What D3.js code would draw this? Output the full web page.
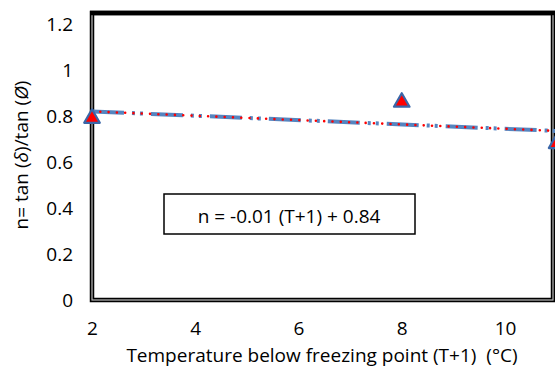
<!DOCTYPE html>
<html>
<head>
<meta charset="utf-8">
<script src="https://cdn.jsdelivr.net/npm/d3@7"></script>
<style>
  body { margin: 0; background: #fff; }
  text { font-family: "Open Sans", "Noto Sans", sans-serif; fill: #000; }
</style>
</head>
<body>
<script>
// measured points
var tempX = [2, 8, 11];
var nVals = [0.79, 0.86, 0.68];

// trend line ends
var trendX = [2, 11];
var trendY = [0.82, 0.735];

var xTicks = [2, 4, 6, 8, 10];
var yTicks = [0, 0.2, 0.4, 0.6, 0.8, 1, 1.2];

var width = 555, height = 369;
var fs = 19;

var svg = d3.select("body").append("svg")
  .attr("width", width)
  .attr("height", height);

var scalex = d3.scaleLinear()
  .domain([2, 10])
  .range([92, 505]);

var scaley = d3.scaleLinear()
  .domain([0, 1.2])
  .range([300, 24]);

// plot frame (double line look)
var pLeft = 92, pTop = 13, pRight = 553, pBottom = 300;
svg.append("rect")
  .attr("x", pLeft).attr("y", pTop)
  .attr("width", pRight - pLeft).attr("height", pBottom - pTop)
  .attr("fill", "none")
  .attr("stroke", "#000")
  .attr("stroke-width", 4.5);
svg.append("rect")
  .attr("x", pLeft).attr("y", pTop)
  .attr("width", pRight - pLeft).attr("height", pBottom - pTop)
  .attr("fill", "none")
  .attr("stroke", "#bbb")
  .attr("stroke-width", 1.2);
// top edge is a solid thick line
svg.append("line")
  .attr("x1", pLeft - 2).attr("x2", pRight + 2)
  .attr("y1", pTop).attr("y2", pTop)
  .attr("stroke", "#000").attr("stroke-width", 4.5);

// axes (labels only)
var x_axis = d3.axisBottom(scalex).tickValues(xTicks).tickSize(0).tickPadding(0);
var y_axis = d3.axisLeft(scaley).tickValues(yTicks).tickSize(0).tickPadding(0)
  .tickFormat(d3.format("~g"));

var gx = svg.append("g")
  .attr("transform", "translate(0, 328)")
  .call(x_axis);
gx.select(".domain").remove();
gx.selectAll("text").attr("font-size", fs).attr("dy", "0.35em").attr("y", 0);

var gy = svg.append("g")
  .attr("transform", "translate(73, 0)")
  .call(y_axis);
gy.select(".domain").remove();
gy.selectAll("text").attr("font-size", fs).attr("x", 0).attr("dy", "0.35em");

svg.selectAll(".tick text").style("font-family", "'Open Sans', 'Noto Sans', sans-serif").attr("fill", "#000");

// trend line
var trendData = trendX.map(function(d, i){ return [d, trendY[i]]; });
var line = d3.line()
  .x(function(d){ return scalex(d[0]); })
  .y(function(d){ return scaley(d[1]); });

svg.append("path")
  .datum(trendData)
  .attr("d", line)
  .attr("fill", "none")
  .attr("stroke", "#5585c0")
  .attr("stroke-width", 4)
  .attr("stroke-dasharray", "32,8,3,5,3,8");

svg.append("path")
  .datum(trendData)
  .attr("d", line)
  .attr("fill", "none")
  .attr("stroke", "#f00")
  .attr("stroke-width", 2.6)
  .attr("stroke-linecap", "round")
  .attr("stroke-dasharray", "0,8.3");

// data markers
svg.selectAll(".pt")
  .data(tempX)
  .enter()
  .append("path")
  .attr("class", "pt")
  .attr("transform", function(d, i){ return "translate(" + scalex(d) + "," + scaley(nVals[i]) + ")"; })
  .attr("d", d3.symbol().type(d3.symbolTriangle).size(105))
  .attr("fill", "#f00")
  .attr("stroke", "#3a66a8")
  .attr("stroke-width", 2.2)
  .attr("stroke-linejoin", "round");

// equation box
svg.append("rect")
  .attr("x", 164).attr("y", 194)
  .attr("width", 251).attr("height", 40)
  .attr("fill", "#fff")
  .attr("stroke", "#000")
  .attr("stroke-width", 1.5);
svg.append("text")
  .attr("x", 289).attr("y", 216)
  .attr("text-anchor", "middle")
  .attr("dy", "0.35em")
  .attr("font-size", fs)
  .text("n = -0.01 (T+1) + 0.84");

// axis titles
svg.append("text")
  .attr("x", 322).attr("y", 355)
  .attr("text-anchor", "middle")
  .attr("dy", "0.35em")
  .attr("font-size", fs)
  .text("Temperature below freezing point (T+1)\u00A0\u00A0(\u00B0C)");

var yt = svg.append("text")
  .attr("transform", "translate(21,155) rotate(-90)")
  .attr("text-anchor", "middle")
  .attr("dy", "0.35em")
  .attr("font-size", fs);
yt.append("tspan").text("n= tan (");
yt.append("tspan").attr("font-style", "italic").text("\u03B4");
yt.append("tspan").text(")/tan (");
yt.append("tspan").attr("font-style", "italic").text("\u00D8");
yt.append("tspan").text(")");
</script>
</body>
</html>
